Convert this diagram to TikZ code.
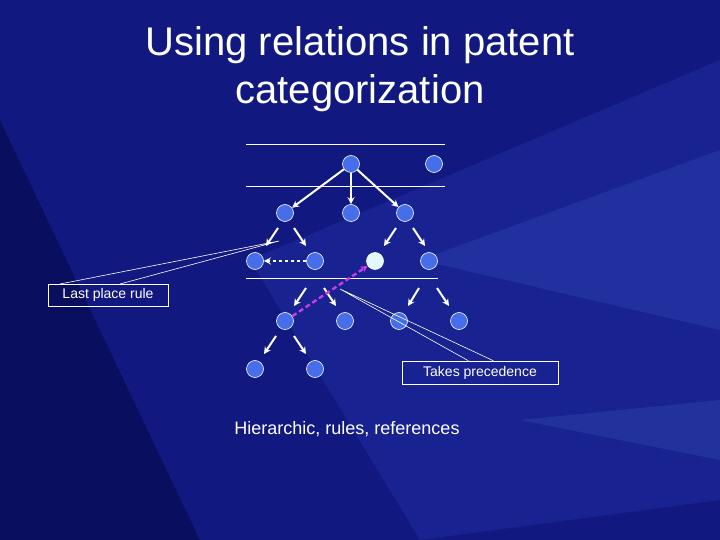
\documentclass[tikz,border=0pt]{standalone}
\usepackage{fontspec}
\setmainfont{Liberation Sans}
\usetikzlibrary{arrows.meta}
\definecolor{bg}{RGB}{10,14,95}
\definecolor{bga}{RGB}{22,32,150}
\definecolor{bgb}{RGB}{35,50,170}
\definecolor{bgc}{RGB}{60,90,200}
\definecolor{bgd}{RGB}{80,110,210}
\definecolor{nodeblue}{RGB}{70,110,235}
\definecolor{nodelight}{RGB}{225,250,255}
\definecolor{mag}{RGB}{200,60,230}
\begin{document}
\begin{tikzpicture}[x=1pt,y=-1pt,
 nd/.style={circle,draw=white,line width=0.6pt,fill=nodeblue,minimum size=17pt,inner sep=0pt},
 ar/.style={white,line width=2pt,-{Stealth[length=7pt,width=7pt]}},
 hl/.style={white,line width=0.6pt},
 cb/.style={draw=white,line width=0.6pt,font=\fontsize{14pt}{16pt}\selectfont,text=white,inner sep=0pt}]
\useasboundingbox (0,0) rectangle (720,540);
\fill[bg] (0,0) rectangle (720,540);
\fill[bga,opacity=0.6] (720,0) -- (720,540) -- (200,540) -- (0,120) -- (0,0) -- cycle;
\fill[bgb,opacity=0.4] (720,60) -- (720,500) -- (420,540) -- (250,260) -- cycle;
\fill[bgc,opacity=0.25] (720,150) -- (720,330) -- (420,260) -- cycle;
\fill[bgd,opacity=0.2] (720,400) -- (720,460) -- (520,420) -- cycle;
\node[text=white,align=center,font=\fontsize{40pt}{48pt}\selectfont] (title) at (360,69) {Using relations in patent\\categorization};
\draw[hl] (246,144) -- (445,144);
\draw[hl] (246,186) -- (445,186);
\draw[hl] (246,278) -- (438,278);
\node[nd] (a) at (351,164) {};
\node[nd] (b) at (434,164) {};
\node[nd] (c) at (285,213) {};
\node[nd] (d) at (351,213) {};
\node[nd] (e) at (405,213) {};
\node[nd] (f) at (255,261) {};
\node[nd] (g) at (315,261) {};
\node[nd,fill=nodelight] (h) at (375,261) {};
\node[nd] (i) at (429,261) {};
\node[nd] (j) at (285,321) {};
\node[nd] (k) at (345,321) {};
\node[nd] (l) at (399,321) {};
\node[nd] (m) at (459,321) {};
\node[nd] (n) at (255,369) {};
\node[nd] (o) at (315,369) {};
\draw[ar] (a) -- (c);
\draw[ar] (a) -- (d);
\draw[ar] (a) -- (e);
\coordinate (p1) at (278,228); \coordinate (q1) at (266,246);
\coordinate (p2) at (294,228); \coordinate (q2) at (306,246);
\coordinate (p3) at (396,228); \coordinate (q3) at (384,246);
\coordinate (p4) at (413,228); \coordinate (q4) at (425,246);
\coordinate (p5) at (306,288); \coordinate (q5) at (294,306);
\coordinate (p6) at (324,288); \coordinate (q6) at (336,306);
\coordinate (p7) at (419,288); \coordinate (q7) at (408,306);
\coordinate (p8) at (437,288); \coordinate (q8) at (449,306);
\coordinate (p9) at (276,336); \coordinate (q9) at (264,354);
\coordinate (p10) at (294,336); \coordinate (q10) at (306,354);
\foreach \k in {1,...,10} {\draw[ar] (p\k) -- (q\k);}
\draw[white,line width=2pt,dashed,-{Stealth[length=7pt,width=7pt]}] (g) -- (f);
\draw[mag,line width=2.4pt,dash pattern=on 5pt off 3pt,-{Stealth[length=7pt,width=7pt]}] (j) -- (h);
\node[cb,minimum width=120pt,minimum height=22pt] (lp) at (108,295) {Last place rule};
\node[cb,minimum width=156pt,minimum height=23pt] (tp) at (480,372.5) {Takes precedence};
\coordinate (lpt) at (279,241);
\coordinate (lp1) at (60,284);
\coordinate (lp2) at (120,284);
\draw[hl] (lp1) -- (lpt) -- (lp2);
\coordinate (tpt) at (340,289);
\draw[hl] ([xshift=-90pt]tp.north east) -- (tpt) -- ([xshift=-65pt]tp.north east);
\node[text=white,font=\fontsize{18pt}{20pt}\selectfont] (cap) at (347,429) {Hierarchic, rules, references};
\end{tikzpicture}
\end{document}
